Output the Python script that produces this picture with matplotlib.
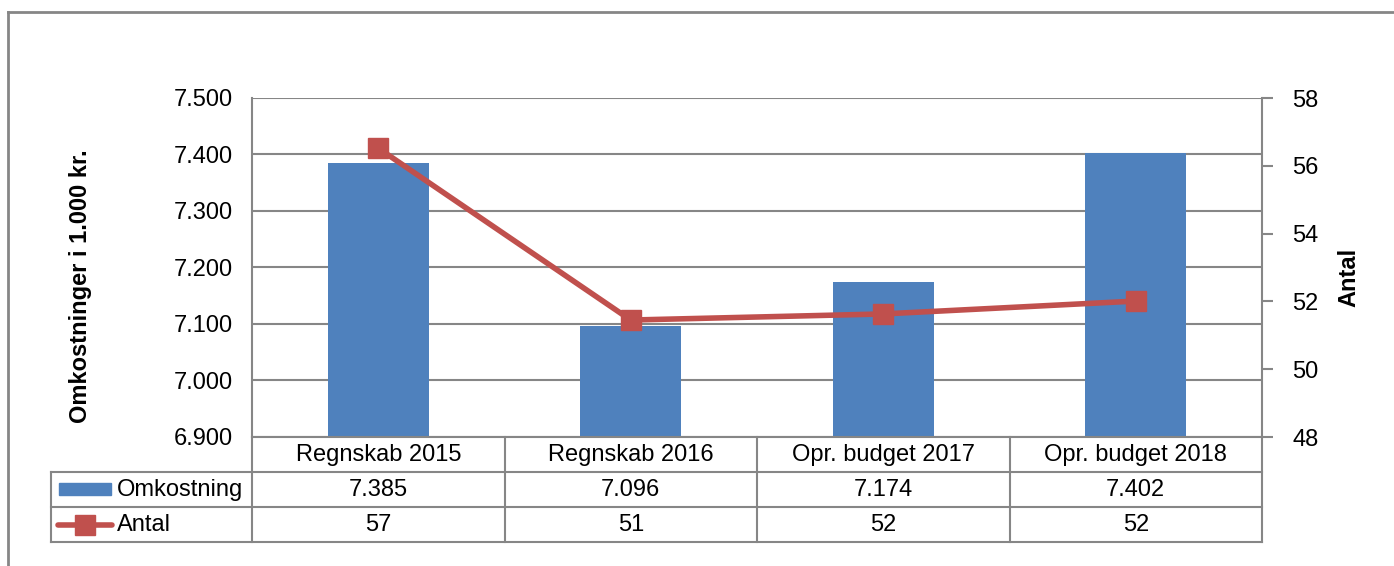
import matplotlib
matplotlib.use("Agg")
import matplotlib.pyplot as plt
from matplotlib.transforms import blended_transform_factory
from matplotlib.patches import Rectangle

categories = ["Regnskab 2015", "Regnskab 2016", "Opr. budget 2017", "Opr. budget 2018"]
omkostning = [7.385, 7.096, 7.174, 7.402]
antal = [56.52, 51.45, 51.63, 52.01]
left_ticks = [6.9, 7.0, 7.1, 7.2, 7.3, 7.4, 7.5]
right_ticks = [48, 50, 52, 54, 56, 58]
series_names = ["Omkostning", "Antal"]

plt.rcParams['font.family'] = ['Liberation Sans', 'DejaVu Sans']
FS = 17
BLUE = "#4F81BD"
RED = "#C0504D"
GRID = "#868686"

W, H = 1394, 566
fig = plt.figure(figsize=(W / 100, H / 100), dpi=100)

# overlay axes in pixel coordinates for table / border
ov = fig.add_axes([0, 0, 1, 1])
ov.set_xlim(0, W)
ov.set_ylim(H, 0)
ov.axis("off")

px_l, px_r, px_t, px_b = 252, 1262, 98, 437
ax = fig.add_axes([px_l / W, 1 - px_b / H, (px_r - px_l) / W, (px_b - px_t) / H])
ax.set_zorder(2)
ax.patch.set_visible(False)

x = list(range(len(categories)))
ax.bar(x, omkostning, width=0.4, color=BLUE, zorder=2)
ax.set_xlim(-0.5, len(categories) - 0.5)
ax.set_ylim(left_ticks[0], left_ticks[-1])
ax.set_yticks(left_ticks)
ax.set_yticklabels([f"{v:.3f}" for v in left_ticks], fontsize=FS)
ax.tick_params(axis="y", length=0, pad=14)
ax.set_xticks([])
ax.yaxis.grid(True, color=GRID, linewidth=1.5, zorder=0)
ax.set_axisbelow(True)
for s in ["top", "right"]:
    ax.spines[s].set_visible(False)
ax.spines["left"].set_color(GRID)
ax.spines["left"].set_linewidth(1.5)
ax.spines["bottom"].set_color(GRID)
ax.spines["bottom"].set_linewidth(1.5)
ax.set_ylabel("Omkostninger i 1.000 kr.", fontsize=FS, fontweight="bold")
ax.yaxis.set_label_coords(-160 / (px_r - px_l), 0.5 - 19 / (px_b - px_t))

ax2 = ax.twinx()
ax2.plot(x, antal, color=RED, linewidth=4, marker="s", markersize=14, zorder=3)
ax2.set_ylim(right_ticks[0], right_ticks[-1])
ax2.set_yticks(right_ticks)
ax2.set_yticklabels([str(v) for v in right_ticks], fontsize=FS)
ax2.tick_params(axis="y", length=8, width=1.5, color=GRID, pad=14)
for s in ["top", "left", "bottom"]:
    ax2.spines[s].set_visible(False)
ax2.spines["right"].set_color(GRID)
ax2.spines["right"].set_linewidth(1.5)
ax2.set_ylabel("Antal", fontsize=FS, fontweight="bold")
ax2.yaxis.set_label_coords(1 + 75 / (px_r - px_l), 0.5 - 10 / (px_b - px_t))

# table
lw = 1.5
col_w = (px_r - px_l) / len(categories)
ov.plot([px_l, px_r], [472, 472], color=GRID, lw=lw)
ov.plot([51, px_l], [472, 472], color=GRID, lw=lw)
ov.plot([51, px_r], [507, 507], color=GRID, lw=lw)
ov.plot([51, px_r], [542, 542], color=GRID, lw=lw)
ov.plot([51, 51], [472, 542], color=GRID, lw=lw)
for i in range(len(categories) + 1):
    xx = px_l + i * col_w
    ov.plot([xx, xx], [437, 542], color=GRID, lw=lw)

tr = blended_transform_factory(ax.transData, ov.transData)
for i, c in enumerate(categories):
    ax.text(i, 455, c, transform=tr, ha="center", va="center", fontsize=FS)
    ax.text(i, 490, f"{omkostning[i]:.3f}", transform=tr, ha="center", va="center", fontsize=FS)
    ax.text(i, 525, f"{antal[i]:.0f}", transform=tr, ha="center", va="center", fontsize=FS)

# legend keys
ov.add_patch(Rectangle((59, 483), 52, 12, color=BLUE))
ov.text(117, 490, series_names[0], ha="left", va="center", fontsize=FS)
ov.plot([58, 112], [525, 525], color=RED, lw=4, solid_capstyle="round")
ov.plot([85], [525], color=RED, marker="s", markersize=14, linestyle="none")
ov.text(117, 525, series_names[1], ha="left", va="center", fontsize=FS)

# outer border
ov.plot([8, 8], [12, H], color=GRID, lw=2)
ov.plot([8, W], [12, 12], color=GRID, lw=2)

fig.savefig("out.png", dpi=100)
